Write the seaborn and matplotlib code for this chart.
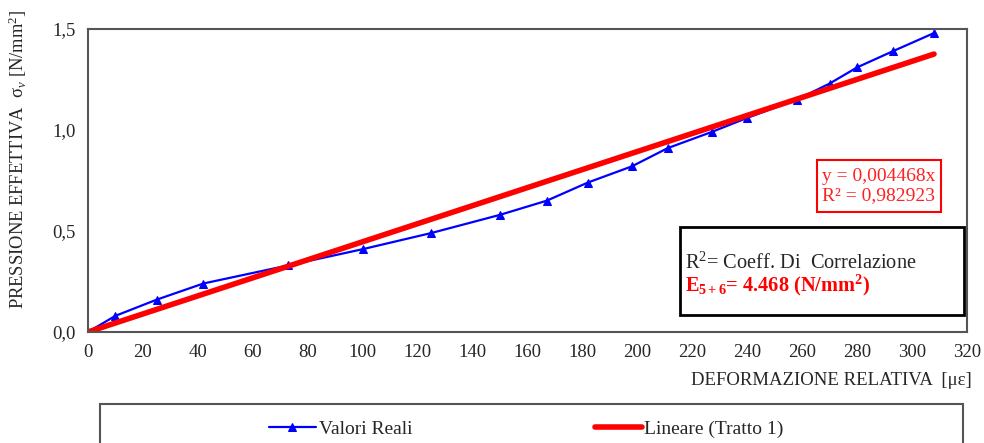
import pandas as pd
import seaborn as sns
import matplotlib.pyplot as plt
from matplotlib.patches import Rectangle

# Dati
deformazione = [0, 10, 25, 42, 73, 100, 125, 150, 167, 182, 198, 211, 227, 240, 258, 270, 280, 293, 308]
pressione = [0.00, 0.08, 0.16, 0.24, 0.33, 0.41, 0.49, 0.58, 0.65, 0.74, 0.82, 0.91, 0.99, 1.06, 1.15,
             1.23, 1.31, 1.39, 1.48]
lineare_x = [0, 308]
lineare_y = [0.0, 1.376]
x_ticks = list(range(0, 321, 20))
y_ticks = [0.0, 0.5, 1.0, 1.5]
y_tick_labels = ['0,0', '0,5', '1,0', '1,5']

df_reali = pd.DataFrame({'x': deformazione, 'y': pressione})
df_lin = pd.DataFrame({'x': lineare_x, 'y': lineare_y})

sns.set_style("white")
plt.rcParams['font.family'] = ['Liberation Serif', 'DejaVu Serif']
plt.rcParams['mathtext.fontset'] = 'custom'
plt.rcParams['mathtext.rm'] = 'Liberation Serif'
plt.rcParams['mathtext.it'] = 'Liberation Serif:italic'
plt.rcParams['mathtext.bf'] = 'Liberation Serif:bold'

fig = plt.figure(figsize=(9.84, 4.43), dpi=100)
ax = fig.add_axes([0.0894, 0.2506, 0.8933, 0.6839])

sns.lineplot(data=df_reali, x='x', y='y', ax=ax, color='#0000ff', linewidth=1.6,
             marker='^', markersize=7, markeredgecolor='#0000ff', label='Valori Reali')
sns.lineplot(data=df_lin, x='x', y='y', ax=ax, color='#ff0000', linewidth=4,
             label='Lineare (Tratto 1)')

ax.set_xlim(0, 320)
ax.set_ylim(0, 1.5)
ax.set_xticks(x_ticks)
ax.set_yticks(y_ticks)
ax.set_yticklabels(y_tick_labels)
ax.tick_params(axis='x', direction='in', length=5, labelsize=13.5, pad=9, color='#444444')
ax.tick_params(axis='y', direction='out', length=5, labelsize=13.5, pad=4, color='#444444')
for s in ax.spines.values():
    s.set_visible(True)
    s.set_color('#555555')
    s.set_linewidth(1.5)

ax.set_xlabel('')
ax.set_ylabel('')
fig.text(0.988, 0.14, 'DEFORMAZIONE RELATIVA  [με]', ha='right', va='center', fontsize=13.5)
fig.text(0.018, 0.64, 'PRESSIONE EFFETTIVA  σ$_v$ [N/mm$^2$]', rotation=90,
         ha='center', va='center', fontsize=13.3)

# riquadro equazione
ax.add_patch(Rectangle((0.829, 0.396), 0.141, 0.172, transform=ax.transAxes,
                       fill=False, edgecolor='#ff0000', linewidth=1.5, zorder=5))
ax.text(0.8995, 0.482, 'y = 0,004468x\nR² = 0,982923', transform=ax.transAxes,
        ha='center', va='center', color='#ff2020', fontsize=14, linespacing=1.1)

# riquadro nota
ax.add_patch(Rectangle((0.673, 0.056), 0.324, 0.291, transform=ax.transAxes,
                       facecolor='white', edgecolor='black', linewidth=2, zorder=5))
ax.text(0.679, 0.227, 'R$^2$= Coeff. Di  Correlazione', transform=ax.transAxes,
        ha='left', va='center', fontsize=14.7, zorder=6)
ax.text(0.679, 0.155, r'$\mathbf{E_{5+6}}$= 4.468 (N/mm$^\mathbf{2}$)', transform=ax.transAxes,
        ha='left', va='center', fontsize=14.7, color='#ff0000', fontweight='bold', zorder=6)

# legenda in basso
ax.get_legend().remove()
handles, labels = ax.get_legend_handles_labels()
handles[0].set_markersize(5.5)
fig.patches.append(Rectangle((0.1016, -0.1), 0.877, 0.188, transform=fig.transFigure,
                             fill=False, edgecolor='#555555', linewidth=1.5))
fig.legend(handles, labels, loc='center', bbox_to_anchor=(0.535, 0.032), ncol=2,
           frameon=False, fontsize=14, handlelength=2.4, handletextpad=0.15,
           columnspacing=9.4, borderaxespad=0)

plt.savefig('out.png', dpi=100)
